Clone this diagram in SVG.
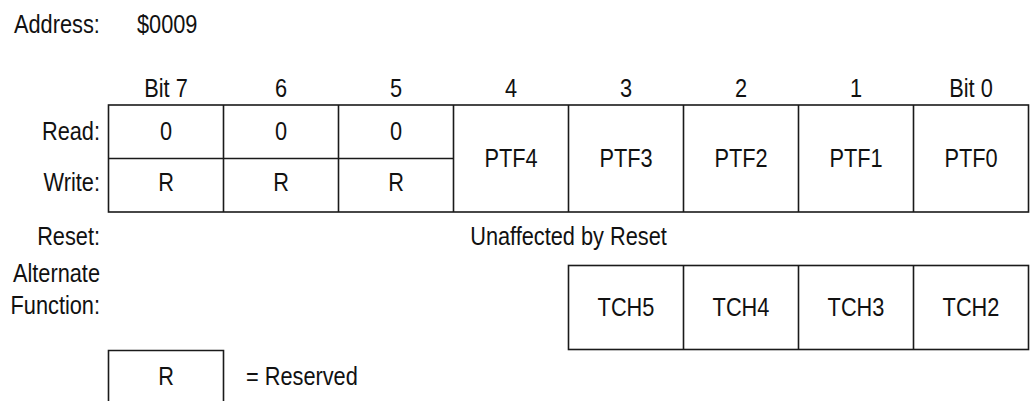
<svg xmlns="http://www.w3.org/2000/svg" width="1031" height="401" viewBox="0 0 1031 401">
<style>
text { font-family: "Liberation Sans", Arial, sans-serif; font-size: 25px; fill: #111; }
.c { text-anchor: middle; }
.r { text-anchor: end; }
.ln { stroke: #1a1a1a; stroke-width: 1.6; fill: none; }
</style>
<rect width="1031" height="401" fill="#fff"/>
<g id="address">
<text transform="translate(14 33) scale(0.87 1)">Address:</text>
<text transform="translate(137 33) scale(0.87 1)">$0009</text>
</g>
<g id="bit-headers">
<text class="c" transform="translate(166 96.5) scale(0.87 1)">Bit 7</text>
<text class="c" transform="translate(281 96.5) scale(0.87 1)">6</text>
<text class="c" transform="translate(396 96.5) scale(0.87 1)">5</text>
<text class="c" transform="translate(511 96.5) scale(0.87 1)">4</text>
<text class="c" transform="translate(626 96.5) scale(0.87 1)">3</text>
<text class="c" transform="translate(741 96.5) scale(0.87 1)">2</text>
<text class="c" transform="translate(856 96.5) scale(0.87 1)">1</text>
<text class="c" transform="translate(971 96.5) scale(0.87 1)">Bit 0</text>
</g>
<g id="row-labels">
<text class="r" transform="translate(100 140) scale(0.87 1)">Read:</text>
<text class="r" transform="translate(100 191) scale(0.87 1)">Write:</text>
<text class="r" transform="translate(100 245) scale(0.87 1)">Reset:</text>
<text class="r" transform="translate(100 282) scale(0.87 1)">Alternate</text>
<text class="r" transform="translate(100 314) scale(0.87 1)">Function:</text>
</g>
<g id="register">
<rect class="ln" x="108.5" y="105" width="920" height="107"/>
<path class="ln" d="M108.5 158.5H453.5M223.5 105V212M338.5 105V212M453.5 105V212M568.5 105V212M683.5 105V212M798.5 105V212M913.5 105V212"/>
<text class="c" transform="translate(166 140) scale(0.87 1)">0</text>
<text class="c" transform="translate(281 140) scale(0.87 1)">0</text>
<text class="c" transform="translate(396 140) scale(0.87 1)">0</text>
<text class="c" transform="translate(166 191) scale(0.87 1)">R</text>
<text class="c" transform="translate(281 191) scale(0.87 1)">R</text>
<text class="c" transform="translate(396 191) scale(0.87 1)">R</text>
<text class="c" transform="translate(511 167) scale(0.87 1)">PTF4</text>
<text class="c" transform="translate(626 167) scale(0.87 1)">PTF3</text>
<text class="c" transform="translate(741 167) scale(0.87 1)">PTF2</text>
<text class="c" transform="translate(856 167) scale(0.87 1)">PTF1</text>
<text class="c" transform="translate(971 167) scale(0.87 1)">PTF0</text>
</g>
<g id="reset">
<text class="c" transform="translate(568.5 245) scale(0.87 1)">Unaffected by Reset</text>
</g>
<g id="alternate-function">
<rect class="ln" x="568.5" y="265.5" width="460" height="84"/>
<path class="ln" d="M683.5 265.5V349.5M798.5 265.5V349.5M913.5 265.5V349.5"/>
<text class="c" transform="translate(626 315.5) scale(0.87 1)">TCH5</text>
<text class="c" transform="translate(741 315.5) scale(0.87 1)">TCH4</text>
<text class="c" transform="translate(856 315.5) scale(0.87 1)">TCH3</text>
<text class="c" transform="translate(971 315.5) scale(0.87 1)">TCH2</text>
</g>
<g id="legend">
<path class="ln" d="M108.5 405V350.5H223.5V405"/>
<text class="c" transform="translate(166 385) scale(0.87 1)">R</text>
<text transform="translate(246 385) scale(0.87 1)">= Reserved</text>
</g>
</svg>
